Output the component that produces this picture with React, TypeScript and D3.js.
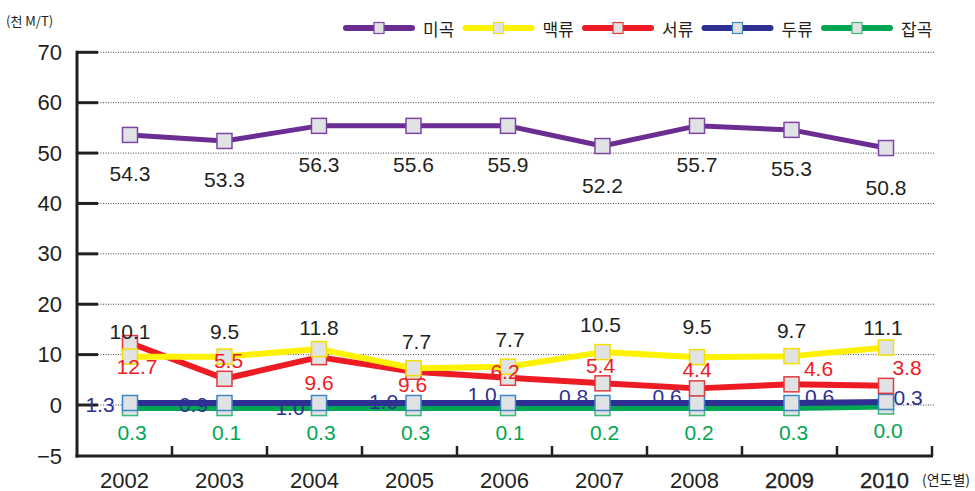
import React from 'react';
import * as d3 from 'd3';

// 연도별 곡물 생산 (천 M/T)
const years = ['2002', '2003', '2004', '2005', '2006', '2007', '2008', '2009', '2010'];
const seriesNames = ['미곡', '맥류', '서류', '두류', '잡곡'];

// plotted positions
const rice = [53.6, 52.4, 55.4, 55.4, 55.4, 51.4, 55.4, 54.6, 51.0];
const barley = [9.6, 9.6, 11.1, 7.3, 7.6, 10.5, 9.5, 9.7, 11.4];
const potato = [12.3, 5.2, 9.5, 6.6, 5.4, 4.3, 3.3, 4.1, 3.8];
const beans = [0.4, 0.4, 0.4, 0.4, 0.4, 0.4, 0.4, 0.4, 0.6];
const misc = [-0.3, -0.3, -0.3, -0.3, -0.3, -0.3, -0.3, -0.3, -0.15];

// printed labels
const riceLabels = ['54.3', '53.3', '56.3', '55.6', '55.9', '52.2', '55.7', '55.3', '50.8'];
const barleyLabels = ['10.1', '9.5', '11.8', '7.7', '7.7', '10.5', '9.5', '9.7', '11.1'];
const potatoLabels = ['12.7', '5.5', '9.6', '9.6', '6.2', '5.4', '4.4', '4.6', '3.8'];
const beansLabels = ['1.3', '0.9', '1.0', '1.0', '1.0', '0.8', '0.6', '0.6', '0.3'];
const miscLabels = ['0.3', '0.1', '0.3', '0.3', '0.1', '0.2', '0.2', '0.3', '0.0'];

const yTicks = [-5, 0, 10, 20, 30, 40, 50, 60, 70];

// label nudges [dx, dy] relative to marker
const riceOff = years.map(() => [0, 39]);
const barleyOff = [[0, -25], [0, -25], [0, -22], [3, -27], [2, -27], [-2, -28], [0, -31], [0, -26], [-3, -20]];
const potatoOff = [[7, 23], [4, -18], [0, 25], [-1, 13], [-3, -6], [-2, -18], [0, -19], [27, -16], [21, -18]];
const beansOff = [[-30, 2], [-31, 2], [-29, 5], [-30, -1], [-26, -8], [-29, -6], [-30, -6], [28, -6], [22, -4]];
const miscOff = years.map(() => [2, 24]);

const W = 975;
const H = 491;
const FONT = "'Liberation Sans', Arial, sans-serif";
const KFONT = "'Noto Sans CJK KR', 'Noto Sans', sans-serif";
const INK = '#231f20';

const series = [
  { name: seriesNames[0], values: rice, labels: riceLabels, off: riceOff, color: '#6b2d92', edge: '#7d45a6', text: INK, width: 5 },
  { name: seriesNames[1], values: barley, labels: barleyLabels, off: barleyOff, color: '#fff200', edge: '#f2de00', text: INK, width: 6 },
  { name: seriesNames[2], values: potato, labels: potatoLabels, off: potatoOff, color: '#ed1c24', edge: '#e0393e', text: '#ed1c24', width: 6 },
  { name: seriesNames[3], values: beans, labels: beansLabels, off: beansOff, color: '#2e3192', edge: '#3d86c6', text: '#2e3192', width: 6 },
  { name: seriesNames[4], values: misc, labels: miscLabels, off: miscOff, color: '#00a651', edge: '#3cb878', text: '#00a651', width: 6 },
];

export default function App() {
  const left = 77;
  const right = 932;
  const bottom = 456;

  // the axis is broken below zero: -5 sits one full step under 0
  const y = d3.scaleLinear().domain([-5, 0, 70]).range([bottom, 405, 52.3]);
  const x = d3.scalePoint<string>().domain(years).range([130, 886]);
  const band = d3.scaleBand<string>().domain(years).range([left, right]);

  const line = (vals: number[]) =>
    d3.line<number>()
      .x((_, i) => x(years[i]) as number)
      .y(d => y(d))(vals) as string;

  const legendX = d3.scalePoint<string>().domain(seriesNames).range([346, 824]);
  const drawOrder = [...series].reverse();

  return (
    <svg width={W} height={H} style={{ position: 'absolute', left: 0, top: 0, background: '#fff' }}>
      <text x={6} y={20} fontFamily={KFONT} fontSize={13} fill={INK} dominantBaseline="central">(천 M/T)</text>

      {/* legend */}
      {series.map(s => {
        const lx = legendX(s.name) as number;
        return (
          <g key={s.name}>
            <line x1={lx} x2={lx + 66} y1={28} y2={28} stroke={s.color} strokeWidth={6} strokeLinecap="round" />
            <rect x={lx + 28} y={22.5} width={10} height={11} fill="#e1e2e4" stroke={s.edge} strokeWidth={1.2} />
            <text x={lx + 77} y={28} fontFamily={KFONT} fontSize={17} fill={INK} dominantBaseline="central">{s.name}</text>
          </g>
        );
      })}

      {/* grid + y ticks */}
      {yTicks.map(t => (
        <g key={t}>
          {t !== -5 && (
            <>
              <line x1={98} x2={935} y1={y(t)} y2={y(t)} stroke="#444" strokeWidth={1} strokeDasharray="1,1.5" />
              <line x1={left} x2={98} y1={y(t)} y2={y(t)} stroke={INK} strokeWidth={3} />
            </>
          )}
          <text x={62} y={y(t)} textAnchor="end" dominantBaseline="central" fontFamily={FONT} fontSize={22} fill={INK}>
            {t < 0 ? `\u2212${Math.abs(t)}` : t}
          </text>
        </g>
      ))}

      {/* axes */}
      <line x1={left} x2={left} y1={50.8} y2={bottom + 1.5} stroke={INK} strokeWidth={3} />
      <line x1={left - 1.5} x2={right + 1} y1={bottom} y2={bottom} stroke={INK} strokeWidth={3} />
      {years.map(yr => {
        const bx = (band(yr) as number) + band.bandwidth();
        return <line key={yr} x1={bx} x2={bx} y1={bottom} y2={bottom - 10} stroke={INK} strokeWidth={2.5} />;
      })}
      {years.map((yr, i) => (
        <text key={yr} x={(band(yr) as number) + band.bandwidth() / 2} y={480} textAnchor="middle" dominantBaseline="central"
          fontFamily={FONT} fontSize={22} fill={INK} stroke={i >= 7 ? INK : 'none'} strokeWidth={0.3}>
          {yr}
        </text>
      ))}
      <text x={922} y={479} fontFamily={KFONT} fontSize={14} fill={INK} dominantBaseline="central">(연도별)</text>

      {/* lines and markers */}
      {drawOrder.map(s => (
        <g key={s.name}>
          <path d={line(s.values)} fill="none" stroke={s.color} strokeWidth={s.width} strokeLinejoin="round" />
          {s.values.map((v, i) => (
            <rect key={i} x={(x(years[i]) as number) - 7.5} y={y(v) - 7.5} width={15} height={15}
              fill="#e1e2e4" stroke={s.edge} strokeWidth={1.5} />
          ))}
        </g>
      ))}

      {/* value labels */}
      {drawOrder.map(s => (
        <g key={s.name + '-lab'}>
          {s.labels.map((lab, i) => (
            <text key={i} x={(x(years[i]) as number) + s.off[i][0]} y={y(s.values[i]) + s.off[i][1]}
              textAnchor="middle" dominantBaseline="central" fontFamily={FONT} fontSize={21} fill={s.text}>
              {lab}
            </text>
          ))}
        </g>
      ))}
    </svg>
  );
}
